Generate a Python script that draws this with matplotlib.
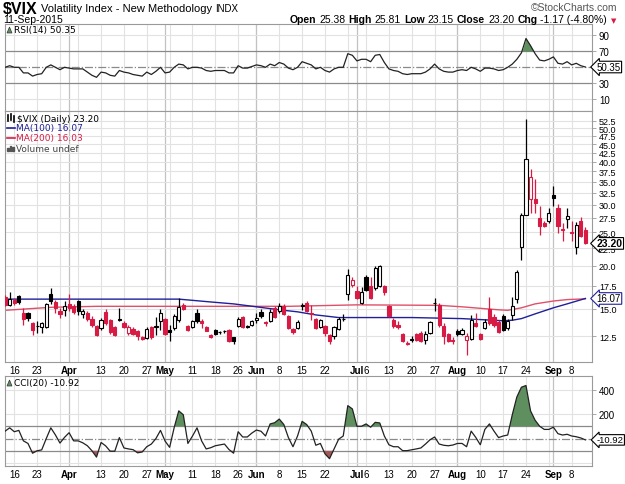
import numpy as np
import pandas as pd
import matplotlib
matplotlib.use('Agg')
import matplotlib.pyplot as plt
from matplotlib.patches import Polygon, Rectangle
from matplotlib.lines import Line2D
from matplotlib.transforms import blended_transform_factory as blend

plt.rcParams['font.family'] = ['Liberation Sans', 'DejaVu Sans']

# trading calendar (market holidays removed)
holidays = ['2015-04-03', '2015-05-25', '2015-07-03', '2015-09-07']
dates = pd.bdate_range('2015-03-12', '2015-09-11')
dates = dates[~dates.isin(pd.to_datetime(holidays))]

opens = [16.2, 15.4, 15.9, 16.3, 14.6, 14.6, 13.6, 13.35, 13.3, 13.3,
         16.6, 15.7, 14.8, 14.9, 15.5, 15.3, 15.8, 14.5, 14.6, 14.0,
         13.4, 13.2, 14.7, 13.9, 13.3, 14.0, 13.6, 12.8, 13.1, 12.9,
         12.4, 12.35, 13.3, 13.3, 13.8, 14.0, 13.0, 13.2, 13.9, 15.4,
         13.4, 13.3, 14.6, 13.8, 13.3, 12.6, 13.0, 12.85, 12.92, 13.0,
         12.4, 13.4, 14.2, 13.35, 13.5, 13.9, 14.7, 13.75, 13.8, 15.1,
         14.8, 15.3, 14.3, 13.1, 13.2, 15.3, 15.6, 14.6, 14.0, 13.3,
         13.4, 12.6, 12.5, 13.1, 14.05, 16.6, 17.6, 16.9, 15.6, 18.6,
         17.5, 17.2, 17.5, 17.5, 15.3, 13.9, 13.5, 12.7, 11.85, 12.2,
         12.7, 12.8, 12.2, 12.8, 15.55, 15.4, 13.4, 12.7, 12.2, 12.95,
         12.7, 12.2, 12.3, 13.6, 12.7, 13.2, 15.0, 14.2, 13.7, 14.3,
         13.2, 14.4, 16.0, 22.6, 28.03, 31.1, 31.3, 27.4, 26.6, 26.9,
         32.0, 29.3, 25.3, 27.3, 25.0, 22.6, 27.0, 25.38]
highs = [16.4, 16.8, 16.1, 16.4, 15.1, 14.7, 13.7, 13.8, 13.7, 15.6,
         17.2, 15.9, 15.1, 15.8, 16.6, 15.5, 15.9, 15.0, 14.8, 14.3,
         13.5, 14.1, 15.0, 14.0, 13.4, 15.1, 13.8, 13.5, 13.3, 13.0,
         12.5, 13.3, 13.4, 14.2, 15.0, 14.1, 13.5, 14.5, 16.1, 15.6,
         13.5, 13.9, 15.0, 14.0, 13.4, 12.7, 13.1, 12.95, 13.0, 13.1,
         12.45, 14.2, 14.3, 13.5, 13.9, 14.6, 15.0, 13.85, 15.0, 15.3,
         15.6, 15.5, 14.4, 13.2, 13.9, 15.6, 15.8, 15.4, 14.1, 14.0,
         13.5, 12.7, 13.4, 14.2, 14.5, 19.5, 18.6, 17.5, 17.4, 18.8,
         18.5, 20.0, 20.1, 17.6, 15.4, 14.1, 13.8, 12.8, 12.1, 12.5,
         12.8, 12.9, 12.9, 13.8, 16.1, 15.6, 13.6, 12.8, 12.4, 13.1,
         13.2, 12.8, 14.4, 14.6, 12.8, 14.0, 16.2, 14.5, 13.9, 14.5,
         14.0, 16.2, 19.4, 28.4, 53.29, 38.0, 35.6, 29.8, 27.0, 29.4,
         34.0, 30.2, 26.6, 29.4, 27.0, 26.8, 27.6, 25.81]
lows = [15.3, 15.3, 15.4, 15.5, 13.5, 13.8, 12.6, 12.8, 12.8, 13.2,
        15.5, 14.6, 14.1, 14.3, 14.8, 14.5, 14.4, 14.1, 13.8, 13.3,
        12.5, 13.0, 13.5, 12.7, 12.5, 13.85, 13.2, 12.6, 12.6, 12.2,
        12.2, 12.3, 12.3, 12.6, 13.0, 12.6, 12.1, 13.0, 13.7, 14.9,
        12.9, 13.2, 13.6, 13.2, 12.9, 12.35, 12.6, 12.7, 12.75, 12.0,
        11.85, 13.3, 13.2, 13.2, 13.4, 13.6, 14.1, 13.4, 13.7, 14.1,
        14.6, 14.4, 13.1, 12.7, 13.1, 14.9, 14.7, 13.9, 13.1, 13.2,
        12.5, 11.9, 12.3, 13.0, 13.8, 15.9, 17.3, 16.0, 15.5, 16.9,
        16.0, 17.0, 17.3, 16.5, 14.2, 13.2, 13.1, 12.0, 11.8, 12.0,
        12.1, 12.0, 11.9, 12.7, 14.8, 13.3, 11.9, 12.0, 11.9, 12.5,
        12.6, 11.0, 12.2, 13.3, 12.2, 13.1, 13.5, 13.3, 12.8, 12.9,
        13.0, 13.9, 15.6, 20.8, 28.0, 28.4, 28.4, 24.6, 25.8, 26.5,
        29.8, 24.8, 23.5, 25.7, 23.6, 21.6, 24.2, 23.15]
closes = [15.42, 16.00, 15.61, 15.66, 13.97, 14.07, 13.02, 13.41, 13.62, 15.44,
          15.80, 15.07, 14.51, 15.29, 15.11, 14.67, 14.74, 14.78, 13.98, 13.45,
          12.58, 13.94, 13.67, 12.84, 12.60, 13.89, 13.30, 13.25, 12.71, 12.48,
          12.29, 13.12, 12.41, 13.39, 14.55, 12.70, 12.85, 14.31, 15.15, 15.00,
          13.00, 13.80, 13.85, 13.60, 12.95, 12.45, 12.70, 12.88, 12.90, 12.10,
          12.13, 14.06, 13.27, 13.31, 13.84, 14.15, 14.25, 13.66, 14.71, 14.21,
          15.29, 14.47, 13.22, 12.85, 13.78, 15.39, 14.81, 14.50, 13.19, 13.96,
          12.74, 12.11, 13.26, 14.01, 14.02, 18.85, 18.23, 16.09, 16.79, 17.01,
          16.09, 19.66, 19.97, 16.83, 14.30, 13.37, 13.25, 12.11, 11.95, 12.25,
          12.22, 12.12, 12.64, 13.74, 15.60, 13.44, 12.50, 12.13, 12.12, 12.70,
          13.00, 12.51, 13.90, 13.39, 12.23, 13.71, 13.61, 13.49, 12.83, 13.02,
          13.79, 15.25, 19.14, 28.03, 40.74, 36.02, 30.32, 26.10, 26.05, 28.43,
          31.40, 26.09, 25.61, 27.80, 24.90, 26.23, 24.37, 23.20]

rsi = [50, 52, 50, 50, 43, 43, 39, 41, 42, 50,
       53, 50, 47, 50, 49, 48, 48, 48, 44, 40,
       37.5, 44, 43, 40, 39, 46, 44, 43, 41, 40,
       39, 44, 41, 45, 50, 43, 44, 50, 54, 53,
       48, 50, 50, 49, 46, 45, 46, 46, 46, 43,
       43, 52, 49, 49, 51, 53, 52, 50, 54, 52,
       56, 54, 49, 47, 50, 57, 55, 53, 48, 50,
       46, 44, 48, 50, 50, 67, 65, 58, 60, 60,
       57, 65, 66, 56, 48, 46, 45, 42, 41, 42,
       42, 42, 44, 48, 54, 48, 45, 44, 44, 46,
       47, 46, 50, 48, 45, 49, 49, 48, 46, 47,
       50, 54, 60, 68, 86, 77, 67, 59, 58, 60,
       63, 55, 54, 57, 53, 55, 52, 50.35]

cci = [61, 88, 56, 67, -19, -40, -120, -100, -93, 0,
       88, 30, -37, 10, 48, -19, -19, -35, -59, -100,
       -152, -32, -60, -104, -104, 8, -77, -85, -91, -117,
       -110, -67, -45, 0, 67, -20, -72, 90, 227, 195,
       -40, 20, 88, -19, -85, -75, -59, -52, -45, -90,
       -120, 56, 13, 13, 45, 70, 60, 21, 120, 130,
       160, 115, 8, -67, 21, 141, 115, 61, -55, -40,
       -125, -165, -85, -5, 21, 270, 243, 101, 101, 120,
       93, 133, 128, 21, -51, -67, -67, -99, -99, -92,
       -85, -77, -45, -10, 13, -45, -55, -59, -53, -40,
       -40, -67, 61, 10, -51, 75, 120, 61, 8, 21,
       29, 195, 341, 421, 435, 227, 150, 101, 75, 75,
       93, 40, 29, 35, 21, 15, 5, -10.92]

ma100_dates = ['2015-03-12', '2015-05-06', '2015-05-15', '2015-05-22', '2015-06-01',
               '2015-06-08', '2015-06-12', '2015-06-18', '2015-06-25', '2015-07-06',
               '2015-07-20', '2015-08-04', '2015-08-17', '2015-08-19', '2015-08-21',
               '2015-08-26', '2015-09-01', '2015-09-04', '2015-09-11']
ma100_vals = [16.0, 16.0, 15.7, 15.5, 15.2, 14.9, 14.7, 14.4, 14.15, 14.15,
              14.15, 14.05, 13.85, 13.9, 14.05, 14.5, 15.1, 15.5, 16.07]
ma200_dates = ['2015-03-12', '2015-03-26', '2015-04-10', '2015-05-01', '2015-06-10',
               '2015-07-01', '2015-07-28', '2015-08-04', '2015-08-14', '2015-08-18',
               '2015-08-21', '2015-08-26', '2015-09-01', '2015-09-04', '2015-09-11']
ma200_vals = [14.85, 15.15, 15.25, 15.25, 15.25, 15.4, 15.35, 15.2, 14.9, 14.85,
              15.1, 15.5, 15.8, 15.95, 16.03]

tick_dates = ['2015-03-16', '2015-03-23', '2015-04-01', '2015-04-13', '2015-04-20',
              '2015-04-27', '2015-05-01', '2015-05-11', '2015-05-18', '2015-05-26',
              '2015-06-01', '2015-06-08', '2015-06-15', '2015-06-22', '2015-07-01',
              '2015-07-06', '2015-07-13', '2015-07-20', '2015-07-27', '2015-08-03',
              '2015-08-10', '2015-08-17', '2015-08-24', '2015-09-01', '2015-09-08']
tick_text = ['16', '23', 'Apr', '13', '20', '27', 'May', '11', '18', '26', 'Jun', '8',
             '15', '22', 'Jul', '6', '13', '20', '27', 'Aug', '10', '17', '24', 'Sep', '8']

RED = '#d81b45'
BLUE = '#1f1f9a'
GREEN = '#5f8f5f'
W, H = 625, 485


def fx(px):
    return px / W


def fy(py):
    return 1 - py / H


x = np.arange(len(dates))
o, h, l, c = map(np.array, (opens, highs, lows, closes))
prev = np.r_[o[0], c[:-1]]
col = np.where(c >= prev, 'black', RED)
hollow = c > o

week_pos = [i for i in range(1, len(dates)) if dates[i].weekday() < dates[i - 1].weekday()]
month_pos = [i for i in range(1, len(dates)) if dates[i].month != dates[i - 1].month]
tick_pos = dates.get_indexer(pd.to_datetime(tick_dates))

fig = plt.figure(figsize=(6.25, 4.85), dpi=100)
L, R = 5, 592
ax_rsi = fig.add_axes([fx(L), fy(112), (R - L) / W, (112 - 25) / H])
ax_px = fig.add_axes([fx(L), fy(363), (R - L) / W, (363 - 112) / H])
ax_cci = fig.add_axes([fx(L), fy(467), (R - L) / W, (467 - 377) / H])

for ax in (ax_rsi, ax_px, ax_cci):
    ax.set_xlim(-0.03, 128.45)
    for s in ax.spines.values():
        s.set_color('#9a9a9a')
        s.set_linewidth(0.8)
    ax.yaxis.tick_right()
    ax.tick_params(axis='y', length=3, width=0.6, color='#9a9a9a', labelsize=7, pad=2)
    ax.tick_params(axis='x', length=0, labelsize=7, pad=2)
    for p in week_pos:
        ax.axvline(p, color='#e2e2e2', lw=0.8, zorder=0)
    for p in month_pos:
        ax.axvline(p, color='#c2c2c2', lw=0.9, zorder=0)

# ---- RSI panel
ax_rsi.set_ylim(-4.6, 104.1)
ax_rsi.set_yticks([10, 30, 70, 90])
ax_rsi.set_xticks([])
for v in (10, 90):
    ax_rsi.axhline(v, color='#e2e2e2', lw=0.8, zorder=0)
for v in (30, 70):
    ax_rsi.axhline(v, color='#8a8a8a', lw=0.9, zorder=1)
ax_rsi.axhline(50, color='#8a8a8a', lw=0.9, ls='-.', zorder=1)
r = np.array(rsi)
ax_rsi.fill_between(x, r, 70, where=r > 70, interpolate=True, color=GREEN, lw=0, zorder=2)
ax_rsi.plot(x, r, color='#222222', lw=0.9, zorder=3)

# ---- price panel
ax_px.set_yscale('log')
ax_px.set_ylim(10.52, 56.1)
pt = np.arange(12.5, 53, 2.5)
ax_px.set_yticks(pt)
ax_px.set_yticklabels(['%.1f' % v for v in pt])
ax_px.minorticks_off()
ax_px.tick_params(axis='y', labelsize=6.5)
for v in pt:
    ax_px.axhline(v, color='#e2e2e2', lw=0.8, zorder=0)
m1 = dates.get_indexer(pd.to_datetime(ma100_dates))
m2 = dates.get_indexer(pd.to_datetime(ma200_dates))
ax_px.plot(m2, ma200_vals, color='#e0506a', lw=1.0, zorder=2)
ax_px.plot(m1, ma100_vals, color=BLUE, lw=1.0, zorder=2)
ax_px.vlines(x, l, h, colors=col, lw=0.9, zorder=3)
ax_px.bar(x, np.abs(c - o), bottom=np.minimum(o, c), width=0.7,
          color=np.where(hollow, 'white', col), edgecolor=col, linewidth=0.8, zorder=4)

# ---- CCI panel
ax_cci.set_ylim(-225, 513)
ax_cci.set_yticks([200, 400])
for v in (-200, 200, 400):
    ax_cci.axhline(v, color='#e2e2e2', lw=0.8, zorder=0)
for v in (-100, 100):
    ax_cci.axhline(v, color='#8a8a8a', lw=0.9, zorder=1)
ax_cci.axhline(0, color='#8a8a8a', lw=0.9, ls='-.', zorder=1)
k = np.array(cci)
ax_cci.fill_between(x, k, 100, where=k > 100, interpolate=True, color=GREEN, lw=0, zorder=2)
ax_cci.fill_between(x, k, -100, where=k < -100, interpolate=True, color='#a05858', lw=0, zorder=2)
ax_cci.plot(x, k, color='#222222', lw=0.9, zorder=3)

for ax in (ax_px, ax_cci):
    ax.set_xticks(tick_pos)
    ax.set_xticklabels(tick_text)
    for t in ax.get_xticklabels():
        if not t.get_text().isdigit():
            t.set_fontweight('bold')


# ---- value tags on the right
def tag(ax, y, s, ec='black', bold=False, size=7):
    ax.text(1.008, y, s, transform=blend(ax.transAxes, ax.transData), fontsize=size,
            fontweight='bold' if bold else 'normal', va='center', ha='left', zorder=10,
            bbox=dict(boxstyle='larrow,pad=0.08', fc='white', ec=ec, lw=0.8), clip_on=False)


tag(ax_rsi, 50.35, '50.35')
tag(ax_px, 23.20, '23.20', bold=True, size=7.5)
tag(ax_px, 16.07, '16.07', ec=BLUE)
tag(ax_cci, -10.92, '-10.92', size=6.8)

# ---- panel legends
lg = dict(fontsize=6.5, va='center', ha='left', family=['DejaVu Sans'])
fig.text(fx(14), fy(31), 'RSI(14) 50.35', **lg)
fig.text(fx(17), fy(119), '$VIX (Daily) 23.20', **lg)
fig.text(fx(16), fy(129), 'MA(100) 16.07', color=BLUE, **lg)
fig.text(fx(16), fy(139), 'MA(200) 16.03', color=RED, **lg)
fig.text(fx(16), fy(149), 'Volume undef', color='#444444', **lg)
fig.text(fx(14), fy(384), 'CCI(20) -10.92', **lg)
for yy in (34, 387):
    fig.add_artist(Polygon([(fx(7), fy(yy)), (fx(9.5), fy(yy - 6)), (fx(12), fy(yy))],
                           closed=True, fc=GREEN, ec='#333333', lw=0.5, transform=fig.transFigure))
fig.add_artist(Line2D([fx(7), fx(15)], [fy(129), fy(129)], color=BLUE, lw=1.2))
fig.add_artist(Line2D([fx(7), fx(15)], [fy(139), fy(139)], color=RED, lw=1.2))
for i, hh in enumerate((3, 5, 4)):
    fig.add_artist(Rectangle((fx(7 + i * 2.5), fy(152)), 1.6 / W, hh / H, color='#555555',
                             transform=fig.transFigure))
for i, (a, b) in enumerate(((116, 122), (115, 121), (117, 123))):
    fig.add_artist(Line2D([fx(8 + i * 3)] * 2, [fy(a), fy(b)], color='black', lw=1.2))

# ---- header
rend = fig.canvas.get_renderer()


def run(pieces, x0, y, align='left', gap=3):
    texts = []
    for s, wt, size, clr in pieces:
        texts.append(fig.text(0, fy(y), s, fontweight=wt, fontsize=size, color=clr, va='center'))
    widths = [t.get_window_extent(rend).width for t in texts]
    total = sum(widths) + gap * (len(texts) - 1)
    xx = x0 if align == 'left' else x0 - total
    for t, w in zip(texts, widths):
        t.set_x(fx(xx))
        xx += w + gap


run([('$VIX', 'bold', 11.5, 'black'),
     ('Volatility Index - New Methodology', 'normal', 8, 'black'),
     ('INDX', 'normal', 7, 'black')], 3, 9)
fig.text(fx(3), fy(20), '11-Sep-2015', fontsize=7.5, va='center')
fig.text(fx(617), fy(8), '\u00a9StockCharts.com', fontsize=7.5, color='#555555',
         va='center', ha='right')
run([('Open', 'bold', 7.5, 'black'), ('25.38', 'normal', 7.5, 'black'),
     ('High', 'bold', 7.5, 'black'), ('25.81', 'normal', 7.5, 'black'),
     ('Low', 'bold', 7.5, 'black'), ('23.15', 'normal', 7.5, 'black'),
     ('Close', 'bold', 7.5, 'black'), ('23.20', 'normal', 7.5, 'black'),
     ('Chg', 'bold', 7.5, 'black'), ('-1.17 (-4.80%)', 'normal', 7.5, 'black')],
    607, 20, align='right')
fig.text(fx(614), fy(21), '\u25bc', fontsize=5, color=RED, va='center', ha='center',
         family=['DejaVu Sans'])

fig.savefig('out.png', dpi=100)
